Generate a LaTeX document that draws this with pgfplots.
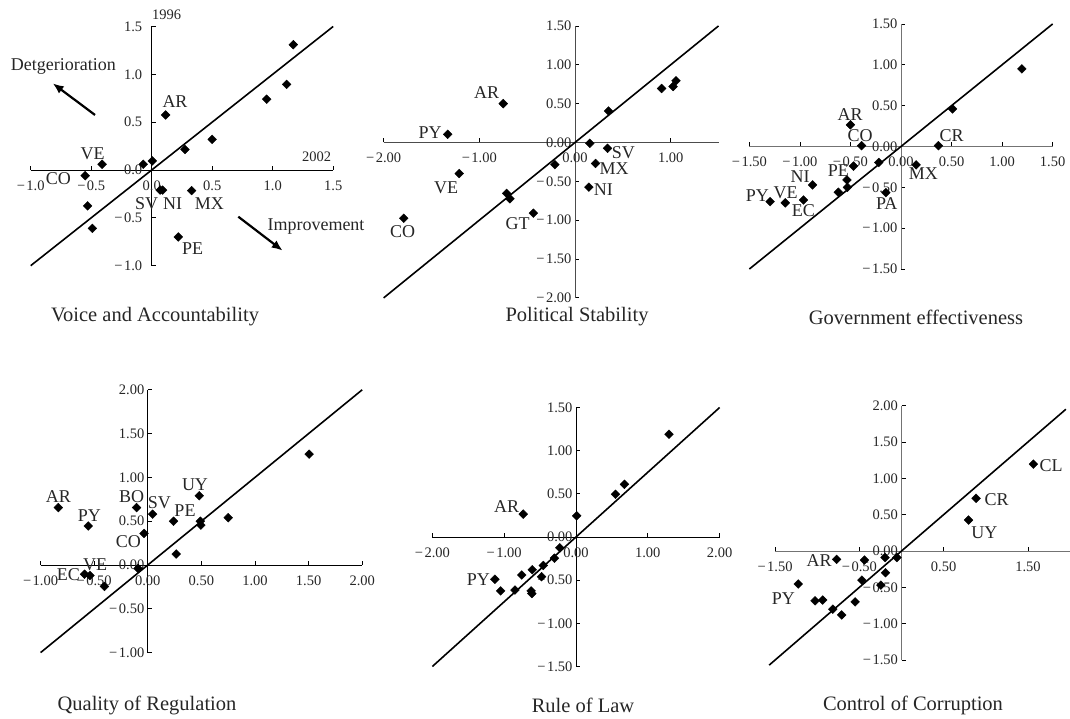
\documentclass[border=0pt]{standalone}
\usepackage{fontspec}
\setmainfont{Liberation Serif}
\usepackage{pgfplots}
\pgfplotsset{compat=1.18}
\usetikzlibrary{arrows.meta}
\newcommand\tk{\fontsize{14.5}{16}\selectfont}
\newcommand\lb{\fontsize{18}{20}\selectfont}
\newcommand\ti{\fontsize{20.5}{22}\selectfont}
\newcommand\m{−\kern1.5pt}
\pgfplotsset{
  panel/.style={anchor=origin, at={(0pt,0pt)}, scale only axis, axis lines=middle,
    enlargelimits=false, clip=false, axis line style={-, line width=0.9pt},
    hide obscured x ticks=false, hide obscured y ticks=false,
    tick align=inside, major tick length=4pt,
    every tick/.style={line width=0.8pt},
    ticklabel style={font=\tk, text=black!85},
    xticklabel style={yshift=-7pt}},
  pts/.style={only marks, mark=square*, mark size=3.1pt,
    mark options={rotate=45, fill=black, draw=black}},
  diag/.style={black, line width=1.6pt, no marks},
}
\begin{document}
\begin{tikzpicture}
\path[use as bounding box] (0pt,0pt) rectangle (1070pt,719pt);
% ---------------- Panel 1: Voice and Accountability
\begin{scope}[shift={(151.7pt,549pt)}]
\begin{axis}[panel, width=302.5pt, height=239.2pt,
  yticklabel style={xshift=-6pt},
  xmin=-1, xmax=1.5, ymin=-1, ymax=1.5,
  xtick={-1,-0.5,0,0.5,1,1.5}, xticklabels={\m1.0,\m0.5,0.0,0.5,1.0,1.5},
  ytick={-1,-0.5,0,0.5,1,1.5}, yticklabels={\m1.0,\m0.5,0.0,0.5,1.0,1.5}]
\addplot[diag] coordinates {(-1,-1) (1.5,1.5)};
\addplot[pts] coordinates {(1.17,1.31) (1.115,0.895) (0.95,0.74) (0.50,0.32)
 (0.275,0.215) (0.115,0.575) (0.005,0.095) (-0.07,0.06) (-0.41,0.06)
 (-0.55,-0.06) (-0.53,-0.375) (-0.49,-0.61) (0.07,-0.21) (0.09,-0.21)
 (0.33,-0.215) (0.22,-0.70)};
\end{axis}
\end{scope}
% ---------------- Panel 2: Political Stability
\begin{scope}[shift={(575pt,576.5pt)}]
\begin{axis}[panel, width=334.9pt, height=271.95pt,
  axis line style={black!70},
  xmin=-2, xmax=1.5, ymin=-2, ymax=1.5,
  xtick={-2,-1,0,1}, xticklabels={\m2.00,\m1.00,0.00,1.00},
  ytick={-2,-1.5,-1,-0.5,0,0.5,1,1.5},
  yticklabels={\m2.00,\m1.50,\m1.00,\m0.50,0.00,0.50,1.00,1.50}]
\addplot[diag] coordinates {(-2,-2) (1.5,1.5)};
\addplot[pts] coordinates {(-0.75,0.50) (-1.33,0.105) (-1.21,-0.40)
 (-1.79,-0.975) (-0.715,-0.655) (-0.68,-0.725) (-0.435,-0.91) (-0.21,-0.285)
 (0.155,-0.01) (0.34,-0.075) (0.215,-0.27) (0.145,-0.575) (0.35,0.405)
 (0.905,0.695) (1.025,0.72) (1.055,0.795)};
\end{axis}
\end{scope}
% ---------------- Panel 3: Government effectiveness
\begin{scope}[shift={(901pt,572.5pt)}]
\begin{axis}[panel, width=303.3pt, height=245.1pt,
  axis line style={black!55},
  xmin=-1.5, xmax=1.5, ymin=-1.5, ymax=1.5,
  xtick={-1.5,-1,-0.5,0,0.5,1,1.5},
  xticklabels={\m1.50,\m1.00,\m0.50,0.00,0.50,1.00,1.50},
  ytick={-1.5,-1,-0.5,0,0.5,1,1.5},
  yticklabels={\m1.50,\m1.00,\m0.50,0.00,0.50,1.00,1.50}]
\addplot[diag] coordinates {(-1.5,-1.5) (1.5,1.5)};
\addplot[pts] coordinates {(1.195,0.95) (0.51,0.46) (0.37,0.01) (-0.50,0.265)
 (-0.39,0.01) (-0.22,-0.195) (0.15,-0.225) (-0.15,-0.565) (-0.47,-0.24)
 (-0.535,-0.41) (-0.53,-0.50) (-0.62,-0.56) (-0.875,-0.47) (-0.965,-0.655)
 (-1.145,-0.69) (-1.295,-0.675)};
\end{axis}
\end{scope}
% ---------------- Panel 4: Quality of Regulation
\begin{scope}[shift={(147.8pt,154pt)}]
\begin{axis}[panel, width=321.6pt, height=262.8pt,
  xmin=-1, xmax=2, ymin=-1, ymax=2,
  xtick={-1,-0.5,0,0.5,1,1.5,2},
  xticklabels={\m1.00,\m0.50,0.00,0.50,1.00,1.50,2.00},
  ytick={-1,-0.5,0,0.5,1,1.5,2},
  yticklabels={\m1.00,\m0.50,0.00,0.50,1.00,1.50,2.00}]
\addplot[diag] coordinates {(-1,-1) (2,2)};
\addplot[pts] coordinates {(1.505,1.265) (0.48,0.79) (0.75,0.54) (0.49,0.50)
 (0.495,0.455) (0.24,0.50) (0.045,0.58) (-0.105,0.655) (-0.035,0.36)
 (0.265,0.125) (-0.09,-0.04) (-0.835,0.655) (-0.555,0.445) (-0.59,-0.105)
 (-0.54,-0.12) (-0.405,-0.245)};
\end{axis}
\end{scope}
% ---------------- Panel 5: Rule of Law
\begin{scope}[shift={(576pt,182pt)}]
\begin{axis}[panel, width=287.2pt, height=258.9pt,
  xmin=-2, xmax=2, ymin=-1.5, ymax=1.5,
  xtick={-2,-1,0,1,2}, xticklabels={\m2.00,\m1.00,0.00,1.00,2.00},
  ytick={-1.5,-1,-0.5,0,0.5,1,1.5},
  yticklabels={\m1.50,\m1.00,\m0.50,0.00,0.50,1.00,1.50}]
\addplot[diag] coordinates {(-2,-1.5) (2,1.5)};
\addplot[pts] coordinates {(1.295,1.19) (0.675,0.61) (0.55,0.495) (0.01,0.245)
 (-0.735,0.265) (-0.225,-0.125) (-0.30,-0.245) (-0.455,-0.33) (-0.61,-0.38)
 (-0.755,-0.44) (-0.48,-0.46) (-1.13,-0.49) (-1.05,-0.625) (-0.85,-0.615)
 (-0.625,-0.625) (-0.615,-0.655)};
\end{axis}
\end{scope}
% ---------------- Panel 6: Control of Corruption
\begin{scope}[shift={(901.5pt,168pt)}]
\begin{axis}[panel, width=295.05pt, height=254.45pt,
  axis line style={black!55},
  xmin=-1.5, xmax=2, ymin=-1.5, ymax=2,
  xtick={-1.5,-0.5,0.5,1.5}, xticklabels={\m1.50,\m0.50,0.50,1.50},
  ytick={-1.5,-1,-0.5,0,0.5,1,1.5,2},
  yticklabels={\m1.50,\m1.00,\m0.50,0.00,0.50,1.00,1.50,2.00}]
\addplot[diag] coordinates {(-1.57,-1.57) (1.95,1.95)};
\addplot[pts] coordinates {(1.565,1.195) (0.885,0.725) (0.795,0.425)
 (-0.77,-0.115) (-0.44,-0.125) (-0.195,-0.09) (-0.055,-0.09) (-0.19,-0.30)
 (-0.47,-0.40) (-0.245,-0.47) (-1.225,-0.455) (-1.025,-0.685) (-0.935,-0.675)
 (-0.55,-0.70) (-0.815,-0.80) (-0.71,-0.88)};
\end{axis}
\end{scope}
% ---------------- annotations (image pixel coords, y flipped)
\begin{scope}[every node/.style={font=\lb, text=black!85, inner sep=0pt}]
\node at (175pt,{719pt-101.7pt}) {AR};
\node at (92.7pt,{719pt-154pt}) {VE};
\node at (58.3pt,{719pt-179pt}) {CO};
\node at (146.7pt,{719pt-203.3pt}) {SV};
\node at (172.7pt,{719pt-203.3pt}) {NI};
\node at (209.3pt,{719pt-203.3pt}) {MX};
\node at (192.7pt,{719pt-248.3pt}) {PE};
\node[font=\tk] at (166.7pt,{719pt-15pt}) {1996};
\node[font=\tk] at (316.7pt,{719pt-156.7pt}) {2002};
\node at (63.3pt,{719pt-66.7pt}) {Detgerioration};
\node at (316pt,{719pt-227pt}) {Improvement};
\node at (486.7pt,{719pt-92.3pt}) {AR};
\node at (430pt,{719pt-132.3pt}) {PY};
\node at (446pt,{719pt-187.7pt}) {VE};
\node at (402.7pt,{719pt-231.7pt}) {CO};
\node at (517.7pt,{719pt-224pt}) {GT};
\node at (623.3pt,{719pt-152.7pt}) {SV};
\node at (614pt,{719pt-168.3pt}) {MX};
\node at (603.3pt,{719pt-190pt}) {NI};
\node at (850pt,{719pt-114.3pt}) {AR};
\node at (860pt,{719pt-136pt}) {CO};
\node at (951.7pt,{719pt-136pt}) {CR};
\node at (838.3pt,{719pt-170.7pt}) {PE};
\node at (923.3pt,{719pt-173.3pt}) {MX};
\node at (800pt,{719pt-176.7pt}) {NI};
\node at (886.7pt,{719pt-204pt}) {PA};
\node at (757.3pt,{719pt-196pt}) {PY};
\node at (785.7pt,{719pt-192.7pt}) {VE};
\node at (803.3pt,{719pt-210.7pt}) {EC};
\node at (58.3pt,{719pt-496.7pt}) {AR};
\node at (89.3pt,{719pt-516pt}) {PY};
\node at (131.7pt,{719pt-496.7pt}) {BO};
\node at (159.3pt,{719pt-502.7pt}) {SV};
\node at (185pt,{719pt-510.7pt}) {PE};
\node at (195pt,{719pt-485pt}) {UY};
\node at (128.3pt,{719pt-541.7pt}) {CO};
\node at (95pt,{719pt-564.3pt}) {VE};
\node at (68.3pt,{719pt-574.3pt}) {EC};
\node at (506.7pt,{719pt-506.7pt}) {AR};
\node at (478.3pt,{719pt-579.3pt}) {PY};
\node at (1051pt,{719pt-466pt}) {CL};
\node at (996.7pt,{719pt-500pt}) {CR};
\node at (984.3pt,{719pt-532.7pt}) {UY};
\node at (819pt,{719pt-561pt}) {AR};
\node at (783.3pt,{719pt-598.3pt}) {PY};
\node[font=\ti] at (155pt,{719pt-317pt}) {Voice and Accountability};
\node[font=\ti] at (577pt,{719pt-317pt}) {Political Stability};
\node[font=\ti] at (916pt,{719pt-317pt}) {Government effectiveness};
\node[font=\ti] at (147pt,{719pt-705pt}) {Quality of Regulation};
\node[font=\ti] at (583pt,{719pt-705pt}) {Rule of Law};
\node[font=\ti] at (913pt,{719pt-705pt}) {Control of Corruption};
\end{scope}
\draw[line width=2.2pt, -{Latex[length=11pt,width=9pt]}] (95pt,{719pt-115pt}) -- (52.7pt,{719pt-83.3pt});
\draw[line width=2.2pt, -{Latex[length=11pt,width=9pt]}] (238.3pt,{719pt-216.7pt}) -- (282.7pt,{719pt-250.7pt});
\end{tikzpicture}
\end{document}
